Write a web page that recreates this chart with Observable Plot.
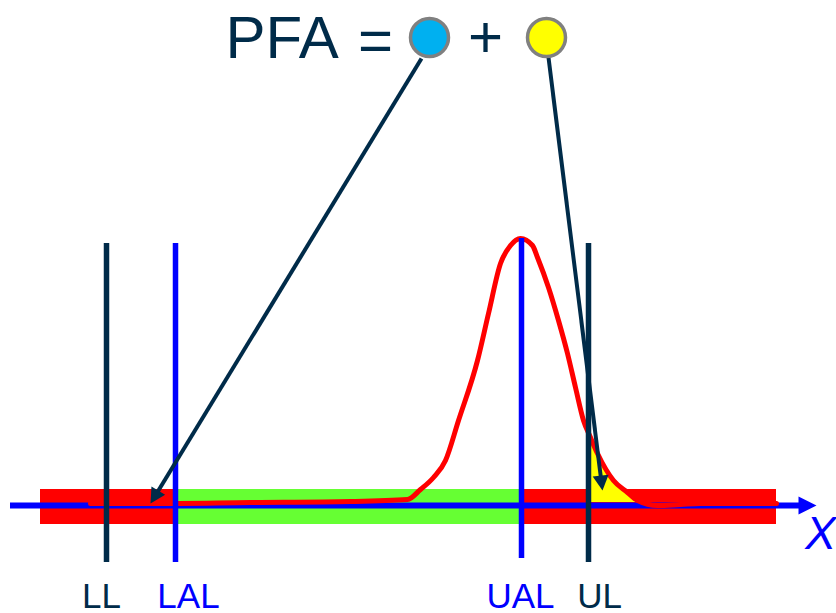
<!DOCTYPE html>
<html><head><meta charset="utf-8">
<script src="https://cdn.jsdelivr.net/npm/d3@7"></script>
<script src="https://cdn.jsdelivr.net/npm/@observablehq/plot@0.6"></script>
<style>body{margin:0;background:#fff}</style>
</head><body><div id="chart"></div>
<script>
// Horizontal position of curve samples and the curve height above the axis
const curveX = [90,150,250,350,407,420,433,445,458,477,488,500,510,520,532,537,548,558,567,575,583,590,597,613,627,637,657,680,700,776];
const curveY = [2,2,3,4,6,16,28,45,85,145,192,242,260,267,260,248,218,185,152,118,85,68,52,25,13,5,0,1,2,2];
// Out-of-spec tail beyond UL (yellow)
const tailX = [590,597,613,627,637];
const tailY = [68,52,25,13,5];
const tailBase = 3;
// Spec / acceptance limits
const limitNames = ["LL","LAL","UAL","UL"];
const limitX = [106,175,521,588];
const limitTop = [262,262,267,262];
const limitBottom = [-57,-57,-53,-57];
const labelX = [101,188,520,599];
const labelY = [-102,-102,-102,-102];
// Acceptance band
const bandStart = 40, bandEnd = 776, greenStart = 175, greenEnd = 521, bandLow = -19, bandHigh = 16;
// Axis
const axisStart = 10, axisEnd = 816;
// Title parts
const titleLead = "PFA";
const titleLeadX = 225, titleLeadY = 448;
const titleOps = ["=","+"];
const titleOpsX = [375,485];
const titleOpsY = [445,449];
const circleX = [429,546];
const circleY = [468,468];
const circleFill = ["#00b0f0","#ffff00"];
// Pointer arrows from circles to areas
const arrowFrom = [[421,447],[548,448]];
const arrowTo = [[150,2],[602,15]];

const navy = "#002b49", blue = "#0000ff";
const limitColor = [navy, blue, blue, navy];
const limitLabelColor = [navy, blue, blue, navy];

const curve = curveX.map((x,i)=>({x, y: curveY[i]}));
const tail = tailX.map((x,i)=>({x, y: tailY[i]}));
const limits = limitNames.map((n,i)=>({n, x:limitX[i], y1:limitBottom[i], y2:limitTop[i], lx:labelX[i], ly:labelY[i], c:limitColor[i], lc:limitLabelColor[i]}));

function head(id, x1,y1,x2,y2,L,w){
  const dx=x2-x1, dy=y2-y1, d=Math.hypot(dx,dy), ux=dx/d, uy=dy/d;
  const bx=x2-L*ux, by=y2-L*uy;
  return [{id,x:x2,y:y2},{id,x:bx-w*uy,y:by+w*ux},{id,x:bx+w*uy,y:by-w*ux},{id,x:x2,y:y2}];
}
function shaftEnd(x1,y1,x2,y2,L){
  const dx=x2-x1, dy=y2-y1, d=Math.hypot(dx,dy);
  return [x2-L*dx/d, y2-L*dy/d];
}
const pointers = arrowFrom.map((f,i)=>{
  const e = shaftEnd(f[0],f[1],arrowTo[i][0],arrowTo[i][1],10);
  return {x1:f[0],y1:f[1],x2:e[0],y2:e[1]};
});
const heads = arrowFrom.flatMap((f,i)=>head(i,f[0],f[1],arrowTo[i][0],arrowTo[i][1],15,8));
const axisHead = head(9, axisStart,0,axisEnd,0,18,9);
const ops = titleOps.map((t,i)=>({t,x:titleOpsX[i],y:titleOpsY[i]}));
const circles = circleX.map((x,i)=>({x,y:circleY[i],f:circleFill[i]}));

const font = "'Liberation Sans', Arial, Helvetica, sans-serif";

const chart = Plot.plot({
  width: 836, height: 613, margin: 0,
  x: {domain:[0,836], range:[0,836], axis:null},
  y: {domain:[-108,505], range:[613,0], axis:null},
  style: {background:"white", overflow:"visible"},
  marks: [
    Plot.rect([{}], {x1: bandStart, x2: bandEnd, y1: bandLow, y2: bandHigh, fill:"#ff0000"}),
    Plot.rect([{}], {x1: greenStart, x2: greenEnd, y1: bandLow, y2: bandHigh, fill:"#66ff33"}),
    Plot.areaY(tail, {x:"x", y1: tailBase, y2:"y", fill:"#ffff00"}),
    Plot.ruleY([0], {x1: axisStart, x2: axisEnd - 14, stroke: blue, strokeWidth: 6}),
    Plot.line(axisHead, {x:"x", y:"y", z:"id", fill: blue, stroke:"none"}),
    Plot.line(curve, {x:"x", y:"y", stroke:"#ff0000", strokeWidth:5, curve:"monotone-x", strokeLinejoin:"round"}),
    Plot.ruleX(limits, {x:"x", y1:"y1", y2:"y2", stroke:"c", strokeWidth:5.5}),
    Plot.text(limits, {x:"lx", y:"ly", text:"n", fill:"lc", fontSize:35, fontFamily:font, lineAnchor:"bottom"}),
    Plot.text(["X"], {x: 820, y: -43, text: d=>d, fill: blue, fontSize: 46, fontStyle:"italic", fontFamily:font, lineAnchor:"bottom"}),
    Plot.link(pointers, {x1:"x1", y1:"y1", x2:"x2", y2:"y2", stroke: navy, strokeWidth:4}),
    Plot.line(heads, {x:"x", y:"y", z:"id", fill: navy, stroke:"none"}),
    Plot.text([titleLead], {x: titleLeadX, y: titleLeadY, text: d=>d, fill: navy, fontSize: 60, fontFamily:font, lineAnchor:"bottom", textAnchor:"start"}),
    Plot.text(ops, {x:"x", y:"y", text:"t", fill: navy, fontSize: 60, fontFamily:font, lineAnchor:"bottom"}),
    Plot.dot(circles, {x:"x", y:"y", r:19, fill:"f", stroke:"#808080", strokeWidth:3.5})
  ]
});
document.getElementById("chart").appendChild(chart);
</script>
</body></html>
